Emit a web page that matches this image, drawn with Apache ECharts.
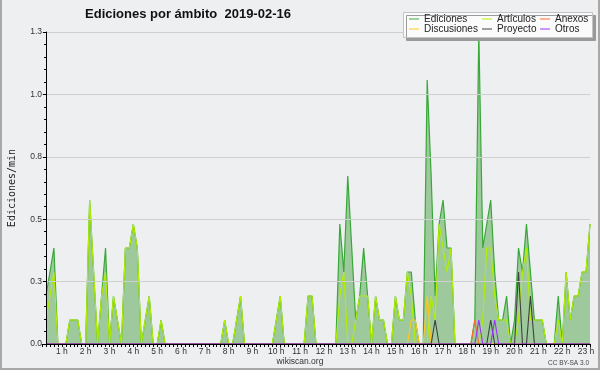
<!DOCTYPE html>
<html><head><meta charset="utf-8">
<script src="https://cdn.jsdelivr.net/npm/echarts@6/dist/echarts.min.js"></script>
<style>html,body{margin:0;padding:0;background:#eeeff1}#c{width:600px;height:370px}</style>
</head><body><div id="c"></div>
<script>
const titleText = 'Ediciones por ámbito  2019-02-16';
const yName = 'Ediciones/min';
const seriesNames = ['Ediciones', 'Artículos', 'Anexos', 'Discusiones', 'Proyecto', 'Otros'];
const binMinutes = 10; // each value is one 10-minute bin, plotted at the bin's end
const yTicks = [0, 0.26, 0.52, 0.78, 1.04, 1.3];

const ediciones = [
  0.2,0.3,0.4,0,0,0, 0.1,0.1,0.1,0,0,0.6,
  0.3,0,0.2,0.4,0,0.2, 0.1,0,0.4,0.4,0.5,0.4,
  0,0.1,0.2,0,0,0.1, 0,0,0,0,0,0,
  0,0,0,0,0,0, 0,0,0,0.1,0,0,
  0.1,0.2,0,0,0,0, 0,0,0,0,0.1,0.2,
  0,0,0,0,0,0, 0.2,0.2,0,0,0,0,
  0,0,0.5,0.3,0.7,0.4, 0.1,0.2,0.4,0.2,0,0.2,
  0.1,0.1,0,0,0.2,0.1, 0.1,0.3,0.3,0.1,0,0,
  1.1,0.7,0.2,0.5,0.6,0.4, 0.4,0,0,0,0,0,
  0.1,1.3,0.4,0.5,0.6,0.3, 0.1,0.1,0.2,0,0.1,0.4,
  0.3,0.5,0.3,0.1,0.1,0.1, 0,0,0,0.2,0,0.3,
  0.1,0.2,0.2,0.3,0.3,0.5
];
const articulos = [
  0.1,0.2,0.3,0,0,0, 0.1,0.1,0.1,0,0,0.6,
  0.3,0,0.2,0.3,0,0.2, 0.1,0,0.4,0.4,0.5,0.4,
  0,0.1,0.2,0,0,0.1, 0,0,0,0,0,0,
  0,0,0,0,0,0, 0,0,0,0.1,0,0,
  0.1,0.2,0,0,0,0, 0,0,0,0,0.1,0.2,
  0,0,0,0,0,0, 0.2,0.2,0,0,0,0,
  0,0,0.2,0.3,0,0, 0.1,0.2,0.2,0.2,0,0.2,
  0.1,0.1,0,0,0.2,0.1, 0.1,0.3,0.2,0,0,0,
  0,0.2,0.1,0.5,0.4,0.3, 0.4,0,0,0,0,0,
  0,0,0.1,0.4,0.4,0.2, 0.1,0.1,0.1,0,0,0.1,
  0.3,0.4,0.1,0.1,0.1,0.1, 0,0,0,0.1,0,0.3,
  0.1,0.2,0.2,0.3,0.3,0.5
];
const anexos = [
  0,0,0,0,0,0, 0,0,0,0,0,0,
  0,0,0,0,0,0, 0,0,0,0,0,0,
  0,0,0,0,0,0, 0,0,0,0,0,0,
  0,0,0,0,0,0, 0,0,0,0,0,0,
  0,0,0,0,0,0, 0,0,0,0,0,0,
  0,0,0,0,0,0, 0,0,0,0,0,0,
  0,0,0,0,0,0, 0,0,0,0,0,0,
  0,0,0,0,0,0, 0,0,0,0,0,0,
  0,0,0,0,0,0, 0,0,0,0,0,0,
  0.1,0,0,0,0,0, 0,0,0,0,0,0,
  0,0,0,0,0,0, 0,0,0,0,0,0,
  0,0,0,0,0,0
];
const discusiones = [
  0,0,0,0,0,0, 0,0,0,0,0,0,
  0,0,0,0,0,0, 0,0,0,0,0,0,
  0,0,0,0,0,0, 0,0,0,0,0,0,
  0,0,0,0,0,0, 0,0,0,0,0,0,
  0,0,0,0,0,0, 0,0,0,0,0,0,
  0,0,0,0,0,0, 0,0,0,0,0,0,
  0,0,0,0,0,0, 0,0,0,0,0,0,
  0,0,0,0,0,0, 0,0,0.1,0.1,0,0,
  0.2,0,0,0,0,0, 0,0,0,0,0,0,
  0,0,0,0,0,0, 0,0,0,0,0,0,
  0,0,0,0,0,0, 0,0,0,0,0,0,
  0,0,0,0,0,0
];
const proyecto = [
  0,0,0,0,0,0, 0,0,0,0,0,0,
  0,0,0,0,0,0, 0,0,0,0,0,0,
  0,0,0,0,0,0, 0,0,0,0,0,0,
  0,0,0,0,0,0, 0,0,0,0,0,0,
  0,0,0,0,0,0, 0,0,0,0,0,0,
  0,0,0,0,0,0, 0,0,0,0,0,0,
  0,0,0,0,0,0, 0,0,0,0,0,0,
  0,0,0,0,0,0, 0,0,0,0,0,0,
  0,0,0.1,0,0,0, 0,0,0,0,0,0,
  0,0,0,0,0.1,0, 0,0,0,0,0,0.3,
  0,0,0.2,0,0,0, 0,0,0,0,0,0,
  0,0,0,0,0,0
];
const otros = [
  0,0,0,0,0,0, 0,0,0,0,0,0,
  0,0,0,0,0,0, 0,0,0,0,0,0,
  0,0,0,0,0,0, 0,0,0,0,0,0,
  0,0,0,0,0,0, 0,0,0,0,0,0,
  0,0,0,0,0,0, 0,0,0,0,0,0,
  0,0,0,0,0,0, 0,0,0,0,0,0,
  0,0,0,0,0,0, 0,0,0,0,0,0,
  0,0,0,0,0,0, 0,0,0,0,0,0,
  0,0,0,0,0,0, 0,0,0,0,0,0,
  0,0.1,0,0,0,0.1, 0,0,0,0,0,0,
  0,0,0,0,0,0, 0,0,0,0,0,0,
  0,0,0,0,0,0
];

const colors = {
  'Ediciones': '#38a838',
  'Artículos': '#b4ee00',
  'Anexos': '#ff6a2a',
  'Discusiones': '#ffc81e',
  'Proyecto': '#404040',
  'Otros': '#9a30ff'
};
const values = [ediciones, articulos, anexos, discusiones, proyecto, otros];

function pts(arr) { return arr.map((v, i) => [(i + 1) * binMinutes, v]); }

const series = seriesNames.map((name, k) => {
  const s = {
    name: name, type: 'line', data: pts(values[k]),
    showSymbol: false, symbol: 'none', animation: false,
    color: colors[name],
    lineStyle: { width: k === 0 ? 1.2 : 1.1, color: colors[name] },
    z: 2 + k * 0.1
  };
  if (k === 0) s.areaStyle = { color: '#9dc99d', opacity: 1 };
  return s;
});

const legendCommon = {
  orient: 'vertical', top: 14, padding: 0, itemGap: 0,
  itemWidth: 10, itemHeight: 1, icon: 'rect', selectedMode: false, z: 20,
  textStyle: { fontFamily: 'Liberation Sans', fontSize: 10, lineHeight: 10, color: '#222' }
};

const chart = echarts.init(document.getElementById('c'), null, { renderer: 'canvas' });
chart.setOption({
  backgroundColor: '#eeeff1',
  animation: false,
  title: {
    text: titleText, left: 188, top: 8, textAlign: 'center', padding: 0,
    textStyle: { fontFamily: 'Liberation Sans', fontWeight: 'bold', fontSize: 13, color: '#111' }
  },
  legend: [
    Object.assign({}, legendCommon, { left: 409, data: ['Ediciones', 'Discusiones'] }),
    Object.assign({}, legendCommon, { left: 482, data: ['Artículos', 'Proyecto'] }),
    Object.assign({}, legendCommon, { left: 540, data: ['Anexos', 'Otros'] })
  ],
  grid: { left: 42, right: 10, top: 32, bottom: 26, containLabel: false, outerBoundsMode: 'none' },
  xAxis: {
    type: 'value', min: 0, max: 1380, interval: 60, z: 10,
    axisLine: { show: true, onZero: false, lineStyle: { color: '#000', width: 1 } },
    axisTick: { show: true, length: 3, lineStyle: { color: '#000' } },
    minorTick: { show: true, splitNumber: 6, length: 3, lineStyle: { color: '#000' } },
    splitLine: { show: false },
    axisLabel: {
      margin: 3, fontFamily: 'Liberation Sans', fontSize: 8.5, color: '#333',
      align: 'center', padding: [0, 8, 0, 0],
      formatter: v => v === 0 ? '' : (v / 60) + ' h'
    }
  },
  yAxis: {
    type: 'value', min: 0, max: yTicks[yTicks.length - 1], interval: yTicks[1], offset: -4, z: 10,
    name: yName, nameLocation: 'middle', nameGap: 29, nameRotate: 90,
    nameTextStyle: { fontFamily: 'DejaVu Sans Mono', fontSize: 10, color: '#222' },
    axisLine: { show: true, lineStyle: { color: '#000', width: 1 } },
    axisTick: { show: true, length: 3, lineStyle: { color: '#000' } },
    minorTick: { show: true, splitNumber: 5, length: 2, lineStyle: { color: '#000' } },
    splitLine: { show: true, lineStyle: { color: '#cfcfcf', width: 1 } },
    axisLabel: {
      margin: 4, fontFamily: 'Liberation Sans', fontSize: 8.5, color: '#333',
      formatter: v => v.toFixed(1)
    }
  },
  graphic: [
    { type: 'rect', z: 15, shape: { x: 403.5, y: 12.5, width: 189, height: 25 },
      style: { fill: '#fbfbfb', stroke: '#c4c4c4', lineWidth: 1, shadowColor: '#9a9a9a', shadowOffsetX: 3, shadowOffsetY: 3, shadowBlur: 0 } },
    { type: 'text', z: 15, x: 300, y: 362, style: { text: 'wikiscan.org', fontFamily: 'Liberation Sans', fontSize: 8.5, fill: '#333', textAlign: 'center', textVerticalAlign: 'middle' } },
    { type: 'text', z: 15, x: 589, y: 363, style: { text: 'CC BY-SA 3.0', fontFamily: 'Liberation Sans', fontSize: 6.5, fill: '#444', textAlign: 'right', textVerticalAlign: 'middle' } },
    { type: 'polyline', z: 30, shape: { points: [[1, 0], [1, 369], [599, 369], [599, 0]] },
      style: { stroke: '#a8a8a8', lineWidth: 2, fill: null } }
  ],
  series: series
});
</script>
</body></html>
